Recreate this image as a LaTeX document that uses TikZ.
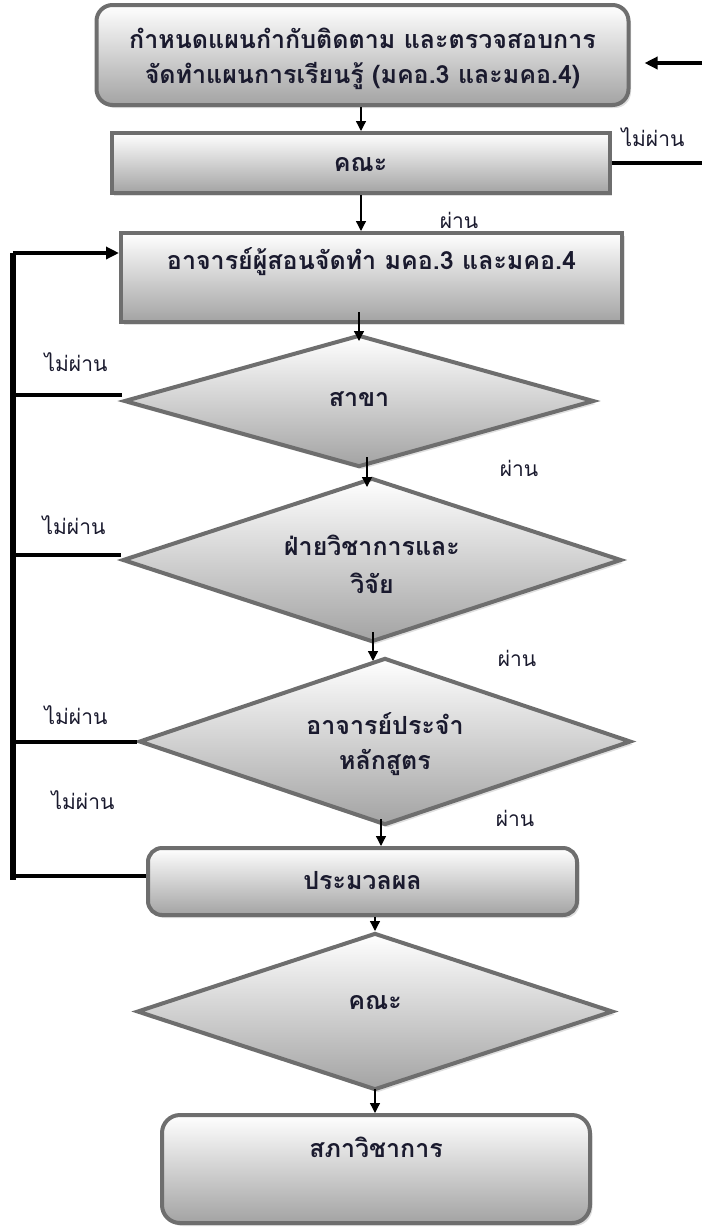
\documentclass[tikz,border=0pt]{standalone}
\usepackage{fontspec}
\newfontfamily\thai[Script=Thai]{Loma}
\usetikzlibrary{arrows.meta,shapes.geometric,shadows,calc}
\definecolor{bord}{HTML}{6E6E6E}
\definecolor{ink}{HTML}{1A1A2E}
\begin{document}
\begin{tikzpicture}[x=1pt,y=-1pt,
  font=\thai\bfseries\fontsize{25}{35}\selectfont,
  boxbase/.style={draw=bord, line width=4pt, top color=white, bottom color=gray!72,
    drop shadow={shadow xshift=2.5pt, shadow yshift=-3pt, opacity=0.25},
    align=center, inner sep=0pt, text=ink},
  rbox/.style={boxbase, rounded corners=16pt},
  sbox/.style={boxbase},
  dbox/.style={boxbase, diamond, shape aspect=3},
  flow/.style={-{Triangle[length=10pt,width=10pt]}, line width=1.3pt},
  backarrow/.style={-{Triangle[length=13pt,width=12pt]}, line width=3.5pt},
  back/.style={line width=4pt},
  trunk/.style={line width=6.5pt},
  lab/.style={font=\thai\fontsize{21}{24}\selectfont, text=ink, inner sep=0pt}
]
\useasboundingbox (0,0) rectangle (702,1227);

% nodes
\node[rbox, minimum width=532pt, minimum height=100pt, text height=64pt, text depth=8pt]
  (top) at (362.5,55)
  {กำหนดแผนกำกับติดตาม และตรวจสอบการ\\จัดทำแผนการเรียนรู้ (มคอ.3 และมคอ.4)};
\node[sbox, minimum width=498pt, minimum height=60pt, text height=24pt, text depth=8pt]
  (kana) at (360.5,163) {คณะ};
\node[sbox, minimum width=501pt, minimum height=89pt, text height=12pt, text depth=29pt]
  (teach) at (371.5,277.5) {อาจารย์ผู้สอนจัดทำ มคอ.3 และมคอ.4};
\node[dbox, minimum width=470pt, minimum height=132pt, text height=20pt, text depth=10pt]
  (sakha) at (359,401) {สาขา};
\node[dbox, minimum width=499pt, minimum height=164pt, text height=74pt, text depth=8pt,
  font=\thai\bfseries\fontsize{25}{38}\selectfont]
  (faai) at (372,560) {ฝ่ายวิชาการและ\\วิจัย};
\node[dbox, minimum width=492pt, minimum height=167pt, text height=63pt, text depth=8pt]
  (prajam) at (385,741.5) {อาจารย์ประจำ\\หลักสูตร};
\node[rbox, rounded corners=14pt, minimum width=429pt, minimum height=67pt,
  text height=22pt, text depth=7pt] (process) at (362.5,881.5) {ประมวลผล};
\node[dbox, minimum width=476pt, minimum height=157pt, text height=12pt, text depth=17pt]
  (kana2) at (375,1011.5) {คณะ};
\node[rbox, rounded corners=18pt, minimum width=428pt, minimum height=108pt,
  text height=12pt, text depth=36pt] (sapha) at (376,1169) {สภาวิชาการ};

% labels
\node[lab] (l1) at (653,137) {ไม่ผ่าน};
\node[lab] (l2) at (459,220) {ผ่าน};
\node[lab] (l3) at (76,362) {ไม่ผ่าน};
\node[lab] (l4) at (519,468) {ผ่าน};
\node[lab] (l5) at (74,525) {ไม่ผ่าน};
\node[lab] (l6) at (517,658) {ผ่าน};
\node[lab] (l7) at (76,715) {ไม่ผ่าน};
\node[lab] (l8) at (83,800) {ไม่ผ่าน};
\node[lab] (l9) at (515,818) {ผ่าน};

% free ends
\coordinate (tk1) at (13,253);
\coordinate (tk2) at (13,880);
\coordinate (rt1) at (702,63);
\coordinate (rt2) at (702,163);

% flow arrows
\draw[flow] (top.south -| 361,0) -- (kana.north -| 361,0);
\draw[flow] (kana.south -| 361,0) -- (teach.north -| 361,0);
\draw[flow] ($(teach.south -| sakha.north)+(0,-12)$) -- ($(sakha.north)+(0,8)$);
\draw[flow] ($(sakha.south -| 367,0)+(0,-12)$) -- ($(faai.north -| 367,0)+(0,11)$);
\draw[flow] ($(faai.south -| 373,0)+(0,-12)$) -- ($(prajam.north -| 373,0)+(0,5)$);
\draw[flow] ($(prajam.south -| 381,0)+(0,-8)$) -- (process.north -| 381,0);
\draw[flow] (process.south -| 375,0) -- (kana2.north -| 375,0);
\draw[flow] ($(kana2.south)+(0,-3)$) -- (sapha.north -| kana2.south);

% feedback on the left
\draw[trunk] (tk1) -- (tk2);
\draw[backarrow] (tk1) -- (tk1 -| teach.west);
\draw[back] (sakha.west |- 0,395) -- (tk1 |- 0,395);
\draw[back] (faai.west |- 0,555) -- (tk1 |- 0,555);
\draw[back] (prajam.west) -- (prajam.west -| tk1);
\draw[back] (process.west |- 0,876) -- (tk1 |- 0,876);

% feedback on the right
\draw[back] (kana.east) -- (kana.east -| rt2);
\draw[backarrow, shorten >=14pt] (rt1) -- (rt1 -| top.east);
\end{tikzpicture}
\end{document}
